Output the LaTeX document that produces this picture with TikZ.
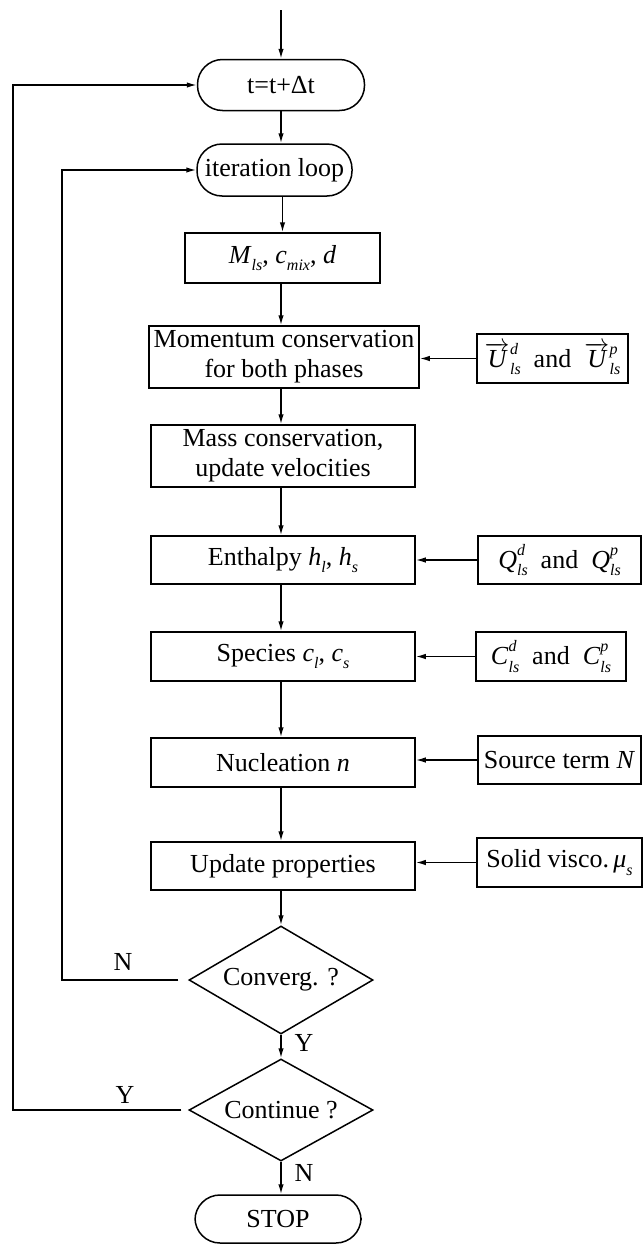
\documentclass[tikz,border=0pt]{standalone}
\usepackage{fontspec}
\setmainfont{Liberation Serif}
\usetikzlibrary{arrows.meta,shapes.geometric}

% small italic indices placed after a symbol
\newcommand{\lowidx}[1]{\raisebox{-0.28em}{\fontsize{16}{16}\selectfont\itshape #1}}
\newcommand{\upidx}[1]{\raisebox{0.5em}{\fontsize{16}{16}\selectfont\itshape #1}}
\newcommand{\supsub}[2]{\rlap{\upidx{#1}}\lowidx{#2}}
\newcommand{\vecU}{$\overrightarrow{\hbox{\itshape U}}$\kern0.5pt}

\tikzset{
  base/.style={draw, line width=1.5pt, inner sep=0pt, align=center,
               font=\fontsize{26}{30}\selectfont},
  stepbox/.style={base, rectangle},
  term/.style={base, rectangle, rounded corners=25pt},
  decide/.style={base, diamond, aspect=1.7},
  lbl/.style={inner sep=0pt, font=\fontsize{26}{30}\selectfont},
  arr/.style={line width=1.5pt, -{Latex[length=10pt,width=5.5pt]}},
}

\begin{document}
\begin{tikzpicture}[x=1pt,y=-1pt]
\useasboundingbox (0,0) rectangle (644,1245);

% start of the time loop
\coordinate (in) at (281,10);
\node[term, minimum width=167pt, minimum height=51pt] (t) at (281,85) {t=t+Δt};
\node[term, minimum width=155pt, minimum height=52pt] (iter) at (274.5,170) {iteration loop};

% main column of solution steps
\node[stepbox, minimum width=195pt, minimum height=50pt] (M) at (282.5,258)
  {\textit{M}\lowidx{ls}, \textit{c}\lowidx{mix}, \textit{d}};
\node[stepbox, minimum width=270pt, minimum height=62pt] (mom) at (284,357)
  {Momentum conservation\\for both phases};
\node[stepbox, minimum width=264pt, minimum height=62pt] (mass) at (283,456)
  {Mass conservation,\\update velocities};
\node[stepbox, minimum width=264pt, minimum height=48pt] (enth) at (283,560)
  {Enthalpy \textit{h}\lowidx{l}, \textit{h}\lowidx{s}};
\node[stepbox, minimum width=264pt, minimum height=49pt] (spec) at (283,656.5)
  {Species \textit{c}\lowidx{l}, \textit{c}\lowidx{s}};
\node[stepbox, minimum width=264pt, minimum height=49pt] (nuc) at (283,762.5)
  {Nucleation \textit{n}};
\node[stepbox, minimum width=264pt, minimum height=48pt] (upd) at (283,866)
  {Update properties};

% source terms on the right
\node[stepbox, minimum width=151pt, minimum height=49pt] (U) at (552.5,358.5)
  {\vecU\supsub{d}{ls}\ \ and\ \ \vecU\supsub{p}{ls}};
\node[stepbox, minimum width=163pt, minimum height=48pt] (Q) at (559.5,560)
  {\textit{Q}\supsub{d}{ls}\ \ and\ \ \textit{Q}\supsub{p}{ls}};
\node[stepbox, minimum width=150pt, minimum height=49pt] (C) at (551,656.5)
  {\textit{C}\supsub{d}{ls}\ \ and\ \ \textit{C}\supsub{p}{ls}};
\node[stepbox, minimum width=163pt, minimum height=48pt] (S) at (559.5,760)
  {Source term \textit{N}};
\node[stepbox, minimum width=165pt, minimum height=49pt] (V) at (559.5,862.5)
  {Solid visco.\,\textit{μ}\lowidx{s}};

% decisions and end
\node[decide, minimum width=184pt, minimum height=108pt] (conv) at (281,980) {Converg. ?};
\node[decide, minimum width=184pt, minimum height=102pt] (cont) at (281,1110) {Continue ?};
\node[term, minimum width=166pt, minimum height=48pt] (stop) at (278,1219) {STOP};

% loop columns on the left
\coordinate (innerx) at (62,0);
\coordinate (outerx) at (13,0);

% vertical flow
\draw[arr] (in) -- (t.north);
\draw[arr] (t.south) -- (t.south |- iter.north);
\draw[arr] (M.north |- iter.south) -- (M.north);
\foreach \a/\b in {M/mom, mom/mass, mass/enth, enth/spec, spec/nuc, nuc/upd}
  \draw[arr] (\a.south -| conv) -- (\b.north -| conv);
\draw[arr] (upd.south -| conv) -- (conv.north);
\draw[arr] (conv.south) -- (cont.north);
\draw[arr] (cont.south) -- (cont.south |- stop.north);

% source term inputs
\foreach \s/\d in {U/mom, Q/enth, C/spec, S/nuc, V/upd}
  \draw[arr] (\s.west) -- (\s.west -| \d.east);

% return loops
\draw[arr, shorten <=10pt] (conv.west) -- (conv.west -| innerx) |- (iter.west);
\draw[arr, shorten <=7pt] (cont.west) -- (cont.west -| outerx) |- (t.west);

% branch labels
\node[lbl] (nconv) at (123,962) {N};
\node[lbl] (yconv) at (304,1043) {Y};
\node[lbl] (ycont) at (125,1095) {Y};
\node[lbl] (ncont) at (304,1173) {N};
\end{tikzpicture}
\end{document}
